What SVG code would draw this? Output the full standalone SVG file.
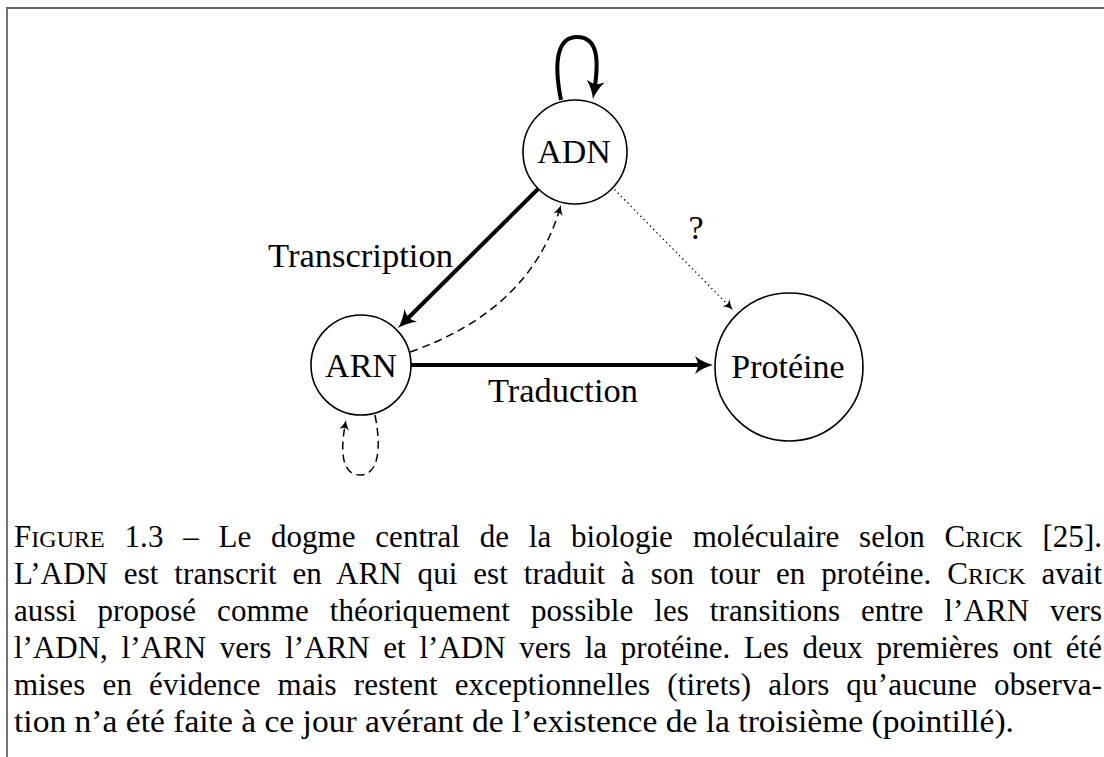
<svg xmlns="http://www.w3.org/2000/svg" width="1104" height="757" viewBox="0 0 1104 757">
<style>
.node{fill:#fff;stroke:#000;stroke-width:1.6}
.lbl{font-family:"Liberation Serif","Times New Roman",serif;font-size:34px;fill:#000}
.cap{font-family:"Liberation Serif","Times New Roman",serif;font-size:31px;fill:#000}
.sc{font-size:24px}
.thick{fill:none;stroke:#000;stroke-width:4}
.dash{fill:none;stroke:#000;stroke-width:1.5;stroke-dasharray:8 5}
.dot{fill:none;stroke:#000;stroke-width:1.4;stroke-dasharray:0.1 4.5;stroke-linecap:round}
</style>
<defs>
<marker id="big" markerUnits="userSpaceOnUse" markerWidth="20" markerHeight="20" refX="10" refY="10" orient="auto" overflow="visible">
<path d="M20,10 C14,8.5 7,5 2,1 Q5,7 5,10 Q5,13 2,19 C7,15 14,11.5 20,10 Z" fill="#000"/>
</marker>
<marker id="small" markerUnits="userSpaceOnUse" markerWidth="10" markerHeight="10" refX="6" refY="5" orient="auto" overflow="visible">
<path d="M10,5 C7,4.3 3,2.5 0,0 Q2,3.5 2,5 Q2,6.5 0,10 C3,7.5 7,5.7 10,5 Z" fill="#000"/>
</marker>
</defs>
<rect width="1104" height="757" fill="#fff"/>
<path d="M7,757 V8 H1104" fill="none" stroke="#666" stroke-width="1.8"/>
<g id="connectors">
<path class="thick" d="M561,100 C553,60 558,37 577,37 C598,37 599,60 594.5,89" marker-end="url(#big)"/>
<path class="thick" d="M538,189 L405.1,321" marker-end="url(#big)"/>
<path class="thick" d="M411,365 L703,365" marker-end="url(#big)"/>
<path class="dash" d="M410,352 Q530,310 559.8,208.8" marker-end="url(#small)"/>
<path class="dot" d="M615,190 L730.2,307.1" marker-end="url(#small)"/>
<path class="dash" d="M375,415 C382,450 378,475 360,475 C342,475 340,452 345.3,423.9" marker-end="url(#small)"/>
<text class="lbl" x="268" y="267" textLength="185" lengthAdjust="spacingAndGlyphs">Transcription</text>
<text class="lbl" x="488" y="402" textLength="150" lengthAdjust="spacingAndGlyphs">Traduction</text>
<text class="lbl" x="696" y="239" text-anchor="middle" font-size="28">?</text>
</g>
<g id="ADN">
<circle class="node" cx="575" cy="152" r="52"/>
<text class="lbl" x="574" y="163" text-anchor="middle">ADN</text>
</g>
<g id="ARN">
<circle class="node" cx="361" cy="365" r="50"/>
<text class="lbl" x="361" y="377" text-anchor="middle">ARN</text>
</g>
<g id="Proteine">
<circle class="node" cx="789" cy="367" r="74"/>
<text class="lbl" x="788" y="378" text-anchor="middle">Protéine</text>
</g>
<g id="caption">
<text class="cap" x="14" y="547" word-spacing="12" textLength="1088" lengthAdjust="spacing">F<tspan class="sc">IGURE</tspan> 1.3 – Le dogme central de la biologie moléculaire selon C<tspan class="sc">RICK</tspan> [25].</text>
<text class="cap" x="14" y="584" word-spacing="8" textLength="1088" lengthAdjust="spacing">L’ADN est transcrit en ARN qui est traduit à son tour en protéine. C<tspan class="sc">RICK</tspan> avait</text>
<text class="cap" x="14" y="621" word-spacing="13" textLength="1088" lengthAdjust="spacing">aussi proposé comme théoriquement possible les transitions entre l’ARN vers</text>
<text class="cap" x="14" y="658" word-spacing="6" textLength="1088" lengthAdjust="spacing">l’ADN, l’ARN vers l’ARN et l’ADN vers la protéine. Les deux premières ont été</text>
<text class="cap" x="14" y="695" word-spacing="9" textLength="1088" lengthAdjust="spacing">mises en évidence mais restent exceptionnelles (tirets) alors qu’aucune observa-</text>
<text class="cap" x="14" y="732" textLength="1000" lengthAdjust="spacingAndGlyphs">tion n’a été faite à ce jour avérant de l’existence de la troisième (pointillé).</text>
</g>
</svg>
